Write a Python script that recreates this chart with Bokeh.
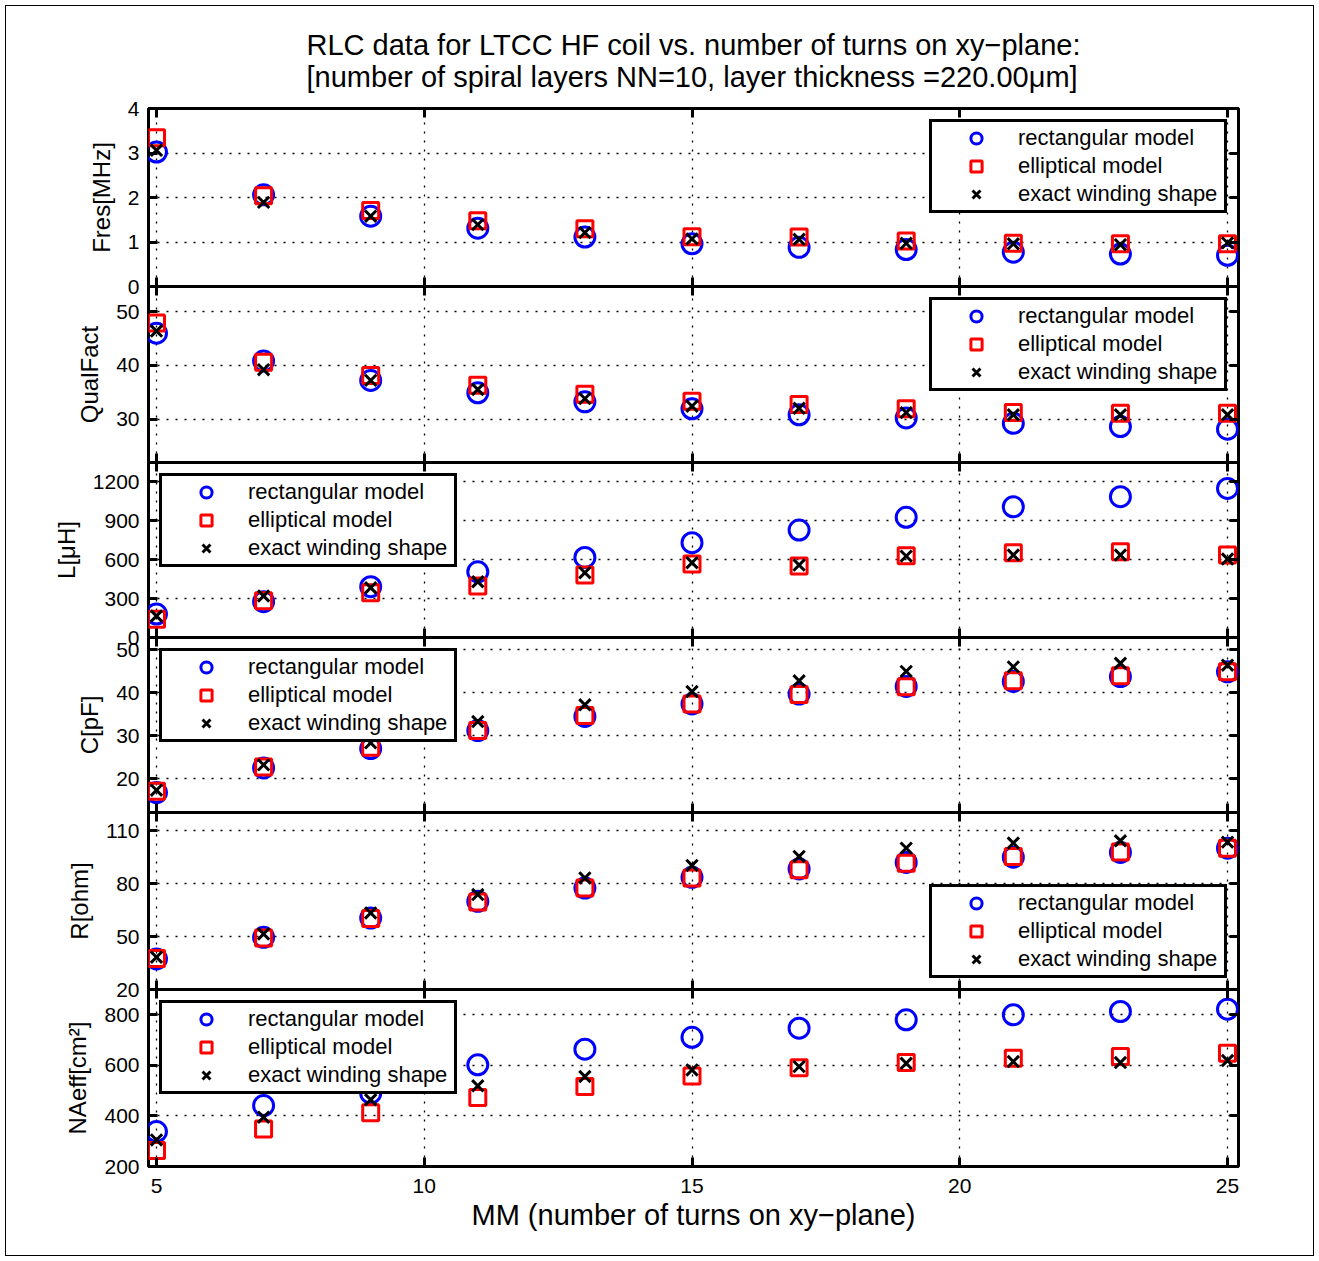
from bokeh.plotting import figure
from bokeh.models import Range1d, FixedTicker, LinearAxis, Legend, LegendItem, Title
from bokeh.layouts import column
from bokeh.embed import file_html
from bokeh.resources import INLINE

FONT = "Liberation Sans"

# number of turns on the xy-plane (MM)
turns = [5, 7, 9, 11, 13, 15, 17, 19, 21, 23, 25]
x_ticks = [5, 10, 15, 20, 25]

# resonance frequency [MHz]
fres_rect = [3.02, 2.06, 1.58, 1.31, 1.11, 0.96, 0.88, 0.83, 0.77, 0.73, 0.70]
fres_ell = [3.34, 2.04, 1.71, 1.48, 1.30, 1.12, 1.11, 1.02, 0.97, 0.96, 0.96]
fres_exact = [3.06, 1.89, 1.58, 1.39, 1.21, 1.07, 1.06, 0.97, 0.96, 0.94, 0.98]
fres_ticks = [0, 1, 2, 3, 4]

# quality factor
q_rect = [46.0, 40.8, 37.2, 34.9, 33.2, 31.9, 30.8, 30.2, 29.2, 28.6, 28.1]
q_ell = [47.9, 40.6, 38.1, 36.3, 34.6, 33.3, 32.7, 31.9, 31.2, 31.1, 31.1]
q_exact = [46.4, 39.2, 37.2, 35.5, 33.8, 32.4, 32.0, 31.2, 30.8, 30.8, 30.8]
q_ticks = [30, 40, 50]

# inductance [uH]
l_rect = [181, 276, 392, 507, 618, 731, 829, 927, 1008, 1086, 1150]
l_ell = [140, 284, 345, 397, 482, 567, 551, 631, 654, 662, 636]
l_exact = [166, 320, 384, 430, 500, 577, 559, 628, 636, 636, 605]
l_ticks = [0, 300, 600, 900, 1200]

# capacitance [pF]
c_rect = [16.75, 22.5, 27.0, 31.2, 34.5, 37.4, 39.7, 41.5, 42.65, 43.8, 44.9]
c_ell = [17.05, 22.7, 27.3, 31.2, 34.7, 37.4, 39.6, 41.4, 42.8, 44.0, 44.9]
c_exact = [17.3, 23.2, 28.35, 33.3, 37.2, 40.3, 42.8, 45.0, 46.05, 46.9, 46.45]
c_ticks = [20, 30, 40, 50]

# resistance [ohm]
r_rect = [37.3, 49.6, 60.5, 70.0, 77.5, 83.6, 88.3, 92.0, 95.0, 97.7, 100.1]
r_ell = [37.5, 49.2, 60.2, 69.6, 77.5, 83.2, 87.9, 91.6, 95.4, 97.9, 100.1]
r_exact = [38.3, 51.5, 63.4, 73.8, 83.2, 90.3, 95.4, 100.1, 103.0, 104.3, 103.5]
r_ticks = [20, 50, 80, 110]

# effective winding area N*A [cm^2]
n_rect = [338, 441, 490, 602, 664, 711, 747, 780, 800, 813, 822]
n_ell = [263, 348, 413, 473, 516, 558, 591, 611, 628, 635, 648]
n_exact = [305, 395, 464, 519, 556, 582, 595, 608, 615, 611, 619]
n_ticks = [200, 400, 600, 800]

series_names = ["rectangular model", "elliptical model", "exact winding shape"]

panels = [
    dict(label="Fres[MHz]", data=(fres_rect, fres_ell, fres_exact), yr=(0, 4), ticks=fres_ticks, loc="top_right"),
    dict(label="QualFact", data=(q_rect, q_ell, q_exact), yr=(21.9, 54.7), ticks=q_ticks, loc="top_right"),
    dict(label="L[μH]", data=(l_rect, l_ell, l_exact), yr=(0, 1350), ticks=l_ticks, loc="top_left"),
    dict(label="C[pF]", data=(c_rect, c_ell, c_exact), yr=(12.1, 52.9), ticks=c_ticks, loc="top_left"),
    dict(label="R[ohm]", data=(r_rect, r_ell, r_exact), yr=(20, 120.3), ticks=r_ticks, loc="bottom_right"),
    dict(label="NAeff[cm²]", data=(n_rect, n_ell, n_exact), yr=(200, 900), ticks=n_ticks, loc="top_left"),
]

# vertical layout of the stacked subplots (frame edges in page pixels)
frame_edges = [108, 286, 462, 637, 812, 989, 1166]
W, H = 1319, 1261
LEFT, RIGHT = 148, 81
PAD = 24


def style_axis(ax, ticks, labels):
    ax.ticker = FixedTicker(ticks=ticks)
    ax.axis_line_color = None
    ax.major_tick_in = 9
    ax.major_tick_out = 0
    ax.major_tick_line_width = 3
    ax.major_tick_line_color = "black"
    ax.minor_tick_line_color = None
    if labels:
        ax.major_label_text_font = FONT
        ax.major_label_text_font_size = "21px"
        ax.major_label_text_color = "black"
        ax.major_label_standoff = 9
    else:
        # tick marks only, no tick labels on this side
        ax.major_label_text_color = None
        ax.major_label_text_font_size = "1px"
        ax.major_label_standoff = 0


figs = []
n = len(panels)
for i, pn in enumerate(panels):
    fh = frame_edges[i + 1] - frame_edges[i]
    top = frame_edges[0] if i == 0 else PAD
    bot = (H - frame_edges[-1]) if i == n - 1 else PAD
    p = figure(width=W, height=top + fh + bot, title=None,
               x_range=Range1d(4.851, 25.205), y_range=Range1d(*pn["yr"]),
               output_backend="svg", toolbar_location=None,
               min_border_left=LEFT, min_border_right=RIGHT,
               min_border_top=top, min_border_bottom=bot)
    p.background_fill_alpha = 0
    p.border_fill_alpha = 0
    p.outline_line_color = "black"
    p.outline_line_width = 3

    bottom_ax = p.below[0]
    left_ax = p.left[0]
    last = i == n - 1
    style_axis(bottom_ax, x_ticks, last)
    style_axis(left_ax, pn["ticks"], True)
    left_ax.axis_label = pn["label"]
    left_ax.axis_label_text_font = FONT
    left_ax.axis_label_text_font_size = "24px"
    left_ax.axis_label_text_font_style = "normal"
    left_ax.axis_label_text_color = "black"
    left_ax.axis_label_standoff = 10

    top_ax = LinearAxis()
    style_axis(top_ax, x_ticks, False)
    p.add_layout(top_ax, "above")
    right_ax = LinearAxis()
    style_axis(right_ax, pn["ticks"], False)
    p.add_layout(right_ax, "right")

    for g, t in ((p.xgrid[0], x_ticks), (p.ygrid[0], pn["ticks"])):
        g.ticker = FixedTicker(ticks=t)
        g.grid_line_color = "black"
        g.grid_line_dash = "2 7"
        g.grid_line_width = 1.3

    rect, ell, exact = pn["data"]
    r1 = p.scatter(turns, rect, marker="circle", size=20, fill_color=None,
                   line_color="#0000ff", line_width=3)
    r2 = p.scatter(turns, ell, marker="square", size=16, fill_color=None,
                   line_color="#ff0000", line_width=3)
    r3 = p.scatter(turns, exact, marker="x", size=16, line_color="black", line_width=3)

    legend = Legend(
        items=[LegendItem(label=series_names[k], renderers=[r]) for k, r in enumerate((r1, r2, r3))],
        location=pn["loc"], margin=11, padding=2, spacing=0,
        glyph_height=28, glyph_width=84, label_standoff=0, label_width=204,
        border_line_color="black", border_line_width=3, border_line_alpha=1,
        background_fill_color="white", background_fill_alpha=1,
        label_text_font=FONT, label_text_font_size="22px", label_text_color="black",
    )
    p.add_layout(legend)

    if i == 0:
        p.add_layout(Title(text="RLC data for LTCC HF coil vs. number of turns on xy−plane:\n"
                                "[number of spiral layers NN=10, layer thickness =220.00μm]",
                           align="center", text_font=FONT, text_font_size="29px",
                           text_font_style="normal", text_color="black",
                           text_line_height=1.0, standoff=31), "above")
    if last:
        bottom_ax.major_label_standoff = 12
        bottom_ax.axis_label = "MM (number of turns on xy−plane)"
        bottom_ax.axis_label_text_font = FONT
        bottom_ax.axis_label_text_font_size = "29px"
        bottom_ax.axis_label_text_font_style = "normal"
        bottom_ax.axis_label_text_color = "black"
        bottom_ax.axis_label_standoff = 3
    if i > 0:
        p.margin = (-2 * PAD, 0, 0, 0)
    figs.append(p)

page = column(*figs)
page.styles = {"outline": "1px solid black", "outline-offset": "-6px"}

open("out.html", "w").write(file_html(page, INLINE))
